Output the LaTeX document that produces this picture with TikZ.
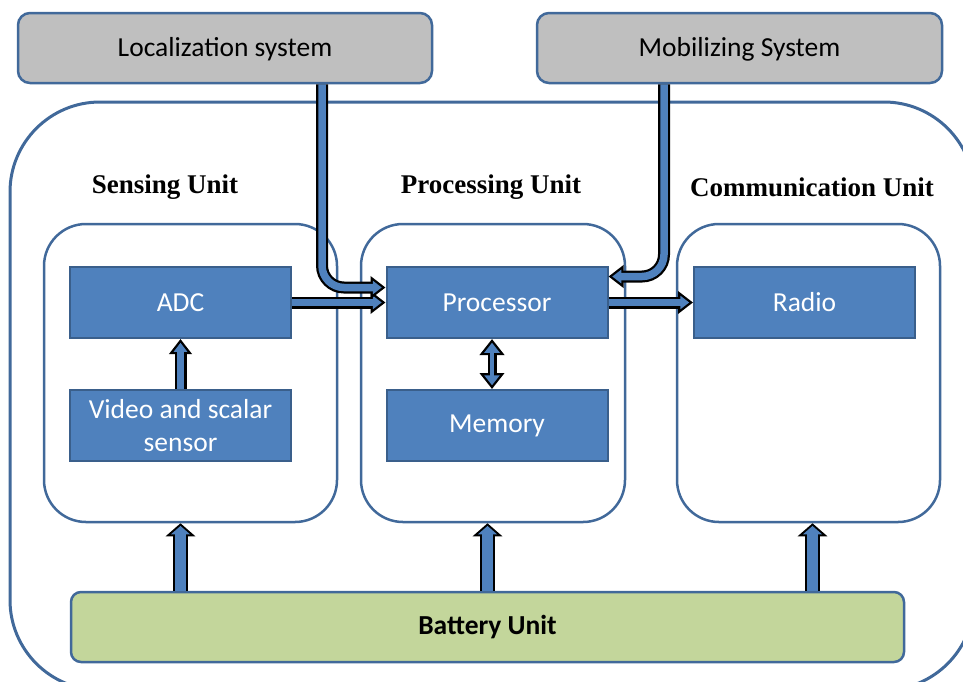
\documentclass[tikz,border=0pt]{standalone}
\usepackage{fontspec}
\setmainfont{Carlito}
\newfontfamily\headfont{Liberation Serif}
\usepackage{tikz}
\usetikzlibrary{arrows.meta}
\definecolor{unitline}{HTML}{41699A}
\definecolor{boxblue}{HTML}{4F81BD}
\definecolor{boxedge}{HTML}{3A5F8B}
\definecolor{sysgray}{HTML}{BFBFBF}
\definecolor{battgreen}{HTML}{C3D69B}
\tikzset{l/.style={font=\fontsize{27.5}{33}\selectfont}}
\tikzset{hd/.style={font=\headfont\bfseries\fontsize{27}{30}\selectfont}}
\tikzset{unit/.style={draw=unitline, line width=2.5pt, rounded corners=42pt, minimum height=298pt}}
\tikzset{blk/.style={l, draw=boxedge, line width=2pt, fill=boxblue, text=white, minimum width=221pt, minimum height=71pt, align=center, inner sep=0pt}}
\tikzset{sys/.style={l, draw=unitline, line width=2.5pt, fill=sysgray, rounded corners=12pt, minimum height=70pt, text depth=2pt}}
% block arrows: black outline first, blue body on top
\tikzset{flow/.style={preaction={draw=black, line width=12pt, shorten >=0pt, -{Triangle[length=15pt, width=22pt]}},
    draw=boxblue, line width=7.5pt, shorten >=3.8pt, -{Triangle[length=8.95pt, width=13.1pt]}}}
\tikzset{feed/.style={preaction={draw=black, line width=15pt, shorten >=0pt, -{Triangle[length=13pt, width=29pt]}},
    draw=boxblue, line width=11pt, shorten >=2.7pt, -{Triangle[length=8.3pt, width=18.5pt]}}}
\tikzset{link/.style={preaction={draw=black, line width=9pt, shorten >=0pt, shorten <=0pt,
      {Triangle[length=16pt, width=24pt]}-{Triangle[length=16pt, width=24pt]}},
    draw=boxblue, line width=4.5pt, shorten >=3.75pt, shorten <=3.75pt,
    {Triangle[length=10pt, width=15pt]}-{Triangle[length=10pt, width=15pt]}}}

\begin{document}
\begin{tikzpicture}[x=1pt, y=-1pt]
  \useasboundingbox (0,0) rectangle (963,681);
  \clip (0,0) rectangle (963,681);

  % outer frame
  \node[draw=unitline, line width=3pt, rounded corners=90pt, minimum width=964pt, minimum height=588pt] (mote) at (492,396) {};

  % external systems
  \node[sys, minimum width=414pt] (loc) at (225,48) {Localization system};
  \node[sys, minimum width=405pt] (mob) at (739.5,48) {Mobilizing System};

  % units
  \node[unit, minimum width=293pt] (sense) at (190.5,373) {};
  \node[unit, minimum width=264pt] (procu) at (493,373) {};
  \node[unit, minimum width=263pt] (comm) at (808.5,373) {};
  \node[hd] (senset) at (165,187) {Sensing Unit};
  \node[hd] (proct) at (491,187) {Processing Unit};
  \node[hd] (commt) at (812,187) {Communication Unit};

  % blocks
  \node[blk] (adc) at (180.5,302.5) {ADC};
  \node[blk] (video) at (180.5,425.5) {Video and scalar\\sensor};
  \node[blk] (cpu) at (497,302.5) {Processor};
  \node[blk] (mem) at (497,425.5) {Memory};
  \node[blk] (radio) at (804.5,302.5) {Radio};

  \node[l, draw=unitline, line width=2.5pt, fill=battgreen, rounded corners=10pt, minimum width=833pt, minimum height=70pt]
    (bat) at (487.5,627) {\bfseries Battery Unit};

  % connectors
  \draw[flow] (video.north) -- (adc.south);
  \draw[flow] (adc.east) -- (cpu.west);
  \draw[flow] (cpu.east) -- (radio.west);
  \draw[flow, rounded corners=22pt] ([xshift=97pt]loc.south) |- ([yshift=15pt]cpu.west);
  \draw[flow, rounded corners=22pt] ([xshift=-75.5pt]mob.south) |- ([yshift=26pt]cpu.east);
  \draw[link] ([xshift=-5pt]cpu.south) -- ([xshift=-5pt]mem.north);
  \draw[feed] (bat.north -| adc) -- (adc |- sense.south);
  \draw[feed] (bat.north) -- (bat.north |- procu.south);
  \draw[feed] ([xshift=4pt]bat.north -| comm) -- ([xshift=4pt]comm.south);
\end{tikzpicture}
\end{document}
